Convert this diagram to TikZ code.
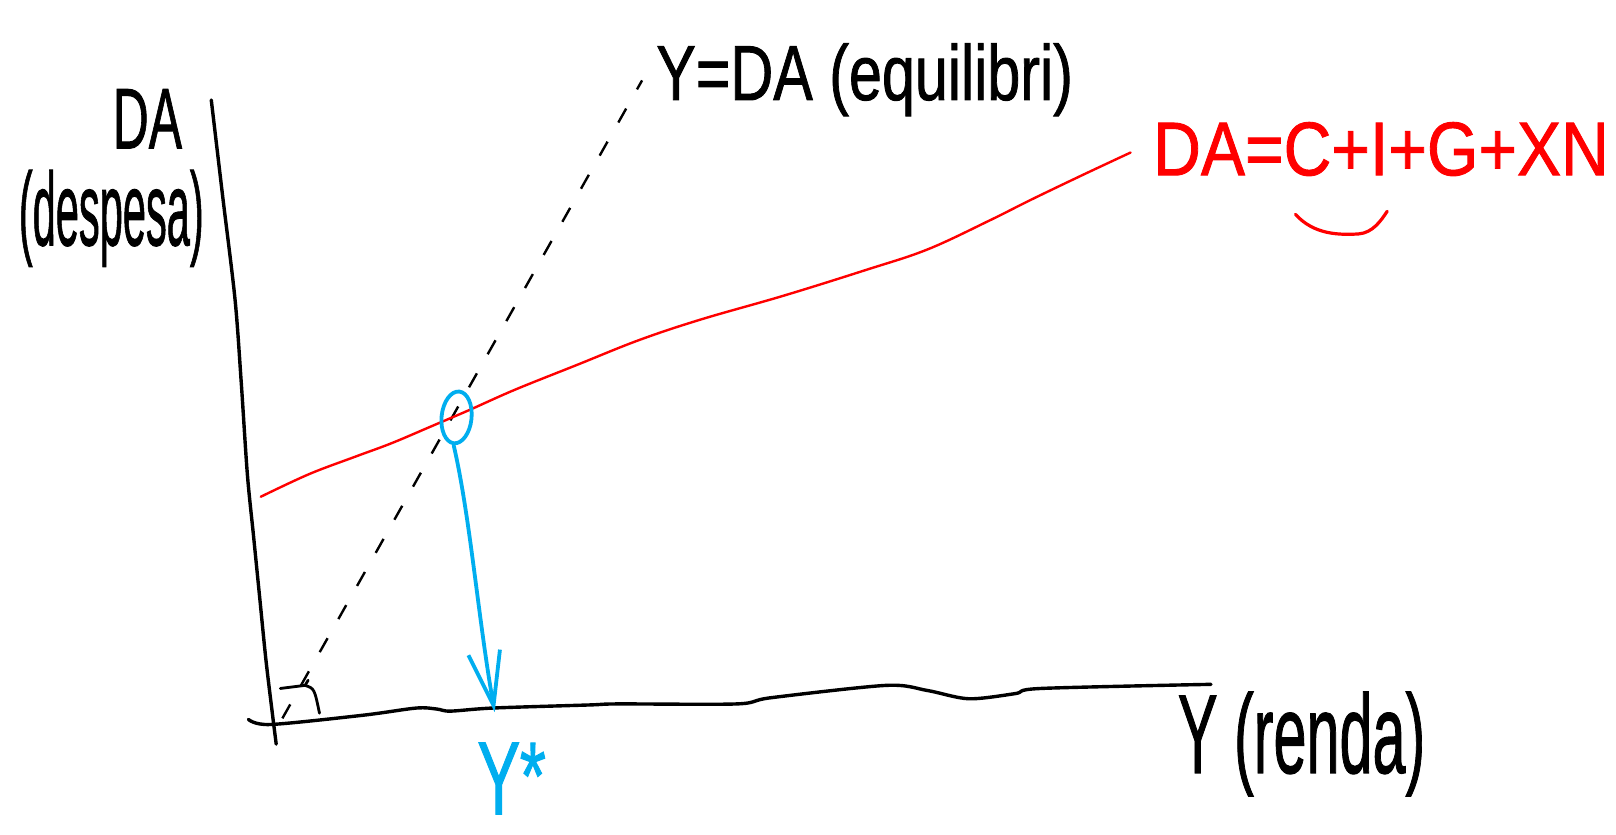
\documentclass[tikz,border=0pt]{standalone}
\usepackage{fontspec}
\setmainfont{Liberation Sans}
\newfontfamily\handfont[FakeBold=1.2]{Liberation Sans}
\usetikzlibrary{arrows.meta,shapes.geometric}
\definecolor{hred}{RGB}{255,0,0}
\definecolor{hblue}{RGB}{0,174,239}
\newcommand{\hwtext}[3]{\scalebox{#1}[1]{\handfont\fontsize{#2}{#2}\selectfont #3}}
\begin{document}
\begin{tikzpicture}[x=0.5153pt,y=-0.5153pt,
  axisline/.style={line width=1.7pt, black, line cap=round, line join=round},
  demand/.style={line width=1.2pt, hred, line cap=round},
  guide/.style={line width=1.2pt, black, dash pattern=on 8pt off 11pt},
  eqmark/.style={ellipse, draw=hblue, line width=1.9pt, minimum width=15pt, minimum height=26pt, inner sep=0pt, rotate=-6},
  eqarrow/.style={line width=1.9pt, hblue, line cap=round, -{Straight Barb[length=27pt,width=16pt,line width=1.9pt]}},
  lbl/.style={inner sep=0pt, anchor=base}]
\useasboundingbox (0,0) rectangle (1568,810);
\fill[white] (0,0) rectangle (1568,810);

% axes
\draw[axisline] plot[smooth, tension=0.5] coordinates {(205,97) (216,190) (228,290) (234,370) (240,460) (246,520) (252,580) (258,640) (264,690) (268,722)};
\draw[axisline] plot[smooth, tension=0.5] coordinates {(241,698) (262,703) (352,694) (404,687) (424,688) (437,690) (478,687) (572,684) (600,683) (715,683) (748,677) (860,665) (900,670) (940,678) (985,673) (1010,668) (1175,664)};

% right-angle mark
\draw[axisline, line width=1.4pt] (272,668) -- (296,665) -- (299,660);
\draw[axisline, line width=1.4pt] (296,665) .. controls (305,668) .. (310,692);

% 45-degree line
\coordinate (O) at (274,697);
\coordinate (dtop) at (623,78);
\draw[guide] (O) -- (dtop);

% demand curve
\draw[demand] plot[smooth, tension=0.6] coordinates {(253,482) (300,460) (345,443) (380,430) (420,413) (455,398) (500,378) (560,354) (620,330) (680,310) (760,287) (840,262) (900,242) (960,214) (1000,194) (1050,170) (1097,148)};

% equilibrium
\node[eqmark] (eq) at (443,405) {};
\coordinate (ystar) at (480,691);
\draw[eqarrow] (eq.south) .. controls (456,500) and (464,600) .. (ystar);

% labels
\node[lbl] (da) at (143,144) {\hwtext{0.58}{43pt}{DA}};
\node[lbl] (desp) at (108,238) {\hwtext{0.40}{52pt}{(despesa)}};
\node[lbl] (eqlbl) at (839,97) {\hwtext{0.76}{39pt}{Y=DA (equilibri)}};
\node[lbl, text=hred] (daeq) at (1340,170) {\hwtext{0.87}{38pt}{DA=C+I+G+XN}};
\draw[demand, line width=1.6pt] (1257,208) .. controls (1275,228) and (1300,228) .. (1318,227) .. controls (1332,226) and (1340,214) .. (1346,205);
\node[lbl] (renda) at (1263,750) {\hwtext{0.53}{56pt}{Y (renda)}};
\node[lbl, text=hblue] (ylbl) at (484,790) {\hwtext{0.62}{52pt}{Y}};
\node[lbl, text=hblue] (ystarmark) at (517,785) {\hwtext{0.7}{48pt}{*}};
\end{tikzpicture}
\end{document}
